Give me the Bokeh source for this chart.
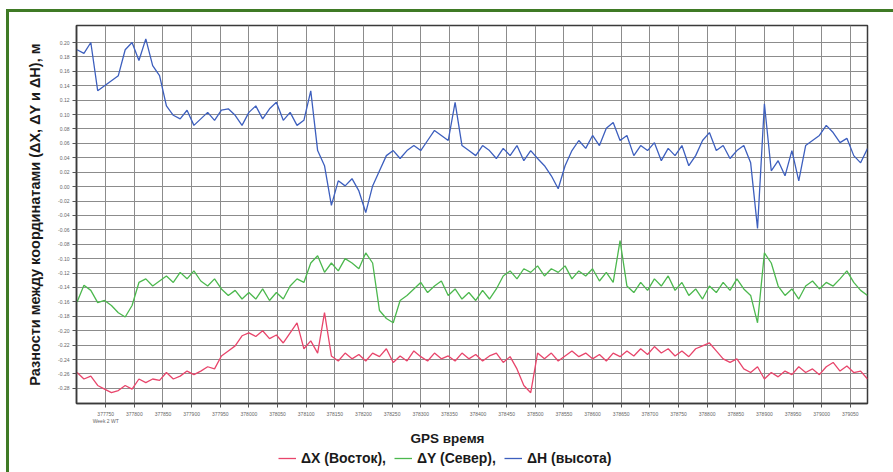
from bokeh.plotting import figure
from bokeh.layouts import column
from bokeh.models import FixedTicker, Legend, LegendItem, Range1d, Title
from bokeh.embed import file_html
from bokeh.resources import INLINE

# ---- data (GPS seconds, metres) ----
t_start = 377700
t_step = 12
dH = [0.190, 0.185, 0.200, 0.133, 0.140, 0.147, 0.154, 0.190, 0.200, 0.175,
      0.205, 0.168, 0.154, 0.112, 0.099, 0.094, 0.106, 0.085, 0.094, 0.103,
      0.092, 0.106, 0.108, 0.099, 0.085, 0.103, 0.112, 0.094, 0.108, 0.117,
      0.092, 0.103, 0.085, 0.092, 0.133, 0.050, 0.029, -0.026, 0.008, 0.001,
      0.011, -0.006, -0.036, 0.001, 0.022, 0.043, 0.050, 0.039, 0.050, 0.057,
      0.050, 0.064, 0.078, 0.071, 0.064, 0.117, 0.057, 0.050, 0.043, 0.057,
      0.050, 0.039, 0.053, 0.043, 0.057, 0.036, 0.050, 0.039, 0.029, 0.015,
      -0.003, 0.029, 0.050, 0.064, 0.053, 0.071, 0.057, 0.081, 0.089, 0.064,
      0.071, 0.043, 0.057, 0.050, 0.061, 0.036, 0.053, 0.043, 0.057, 0.029,
      0.043, 0.064, 0.075, 0.050, 0.057, 0.039, 0.050, 0.057, 0.033, -0.058,
      0.115, 0.022, 0.036, 0.015, 0.050, 0.008, 0.057, 0.064, 0.071, 0.085,
      0.075, 0.061, 0.067, 0.043, 0.033, 0.053]
dY = [-0.160, -0.137, -0.144, -0.161, -0.158, -0.165, -0.175, -0.181, -0.165, -0.133,
      -0.128, -0.138, -0.131, -0.124, -0.133, -0.119, -0.128, -0.117, -0.131, -0.138,
      -0.128, -0.142, -0.151, -0.144, -0.156, -0.147, -0.156, -0.142, -0.158, -0.147,
      -0.156, -0.138, -0.128, -0.133, -0.106, -0.096, -0.119, -0.106, -0.117, -0.100,
      -0.106, -0.114, -0.092, -0.106, -0.172, -0.183, -0.189, -0.158, -0.151, -0.142,
      -0.133, -0.147, -0.138, -0.131, -0.151, -0.142, -0.156, -0.147, -0.158, -0.144,
      -0.156, -0.142, -0.124, -0.117, -0.128, -0.114, -0.119, -0.110, -0.124, -0.114,
      -0.119, -0.110, -0.128, -0.117, -0.124, -0.114, -0.131, -0.119, -0.133, -0.075,
      -0.138, -0.147, -0.133, -0.144, -0.128, -0.138, -0.124, -0.144, -0.133, -0.151,
      -0.142, -0.156, -0.138, -0.147, -0.133, -0.144, -0.128, -0.142, -0.151, -0.189,
      -0.092, -0.106, -0.138, -0.151, -0.142, -0.156, -0.138, -0.131, -0.142, -0.133,
      -0.138, -0.128, -0.117, -0.133, -0.144, -0.151]
dX = [-0.258, -0.267, -0.263, -0.276, -0.281, -0.286, -0.283, -0.276, -0.281, -0.267,
      -0.272, -0.267, -0.269, -0.258, -0.267, -0.263, -0.256, -0.261, -0.256, -0.250,
      -0.253, -0.235, -0.228, -0.221, -0.207, -0.203, -0.208, -0.200, -0.211, -0.206,
      -0.217, -0.203, -0.189, -0.225, -0.214, -0.231, -0.175, -0.235, -0.242, -0.231,
      -0.239, -0.233, -0.242, -0.231, -0.236, -0.225, -0.244, -0.235, -0.242, -0.228,
      -0.236, -0.242, -0.231, -0.239, -0.235, -0.242, -0.231, -0.239, -0.233, -0.242,
      -0.235, -0.231, -0.244, -0.236, -0.253, -0.276, -0.286, -0.231, -0.239, -0.231,
      -0.242, -0.235, -0.228, -0.236, -0.231, -0.239, -0.233, -0.242, -0.231, -0.236,
      -0.228, -0.235, -0.225, -0.233, -0.222, -0.231, -0.225, -0.235, -0.228, -0.236,
      -0.225, -0.221, -0.217, -0.228, -0.239, -0.244, -0.239, -0.253, -0.258, -0.250,
      -0.267, -0.258, -0.264, -0.256, -0.261, -0.250, -0.258, -0.253, -0.261, -0.250,
      -0.244, -0.256, -0.249, -0.258, -0.256, -0.267]
gps_time = [t_start + t_step * i for i in range(len(dH))]

x_ticks = list(range(377750, 379051, 50))
x_tick_labels = [str(t) for t in x_ticks]
x_tick_labels[0] = "377750\nWeek 2 WT"
y_ticks = [round(-0.28 + 0.02 * k, 2) for k in range(25)]
y_tick_labels = ["%.2f" % v for v in y_ticks]

series_names = ["ΔX (Восток),", "ΔY (Север),", "ΔH (высота)"]
series_colors = ["#e8456b", "#4cb84e", "#3d5fbe"]
x_title = "GPS время"
y_title = "Разности между координатами (ΔX, ΔY и ΔH), м"

FONT = "Liberation Sans"
GREEN = "#3f7a25"

p = figure(width=884, height=435, output_backend="svg", toolbar_location=None,
           x_range=Range1d(377699, 379080), y_range=Range1d(-0.301, 0.2236),
           min_border_left=67, min_border_right=26, min_border_top=13,
           min_border_bottom=43)
p.background_fill_color = "white"
p.border_fill_color = "white"
p.outline_line_color = "#3a3a3a"
p.outline_line_width = 1.5

series = [dX, dY, dH]
for vals, col in zip(series, series_colors):
    p.line(gps_time, vals, line_color=col, line_width=1.3)

# axes
p.xaxis.ticker = FixedTicker(ticks=x_ticks)
p.xaxis.major_label_overrides = dict(zip(x_ticks, x_tick_labels))
p.yaxis.ticker = FixedTicker(ticks=y_ticks)
p.yaxis.major_label_overrides = dict(zip(y_ticks, y_tick_labels))
for ax in (p.xaxis[0], p.yaxis[0]):
    ax.minor_tick_line_color = None
    ax.major_tick_out = 4
    ax.major_tick_in = 0
    ax.major_tick_line_color = "#555555"
    ax.axis_line_color = "#3a3a3a"
    ax.axis_line_width = 1.5
    ax.major_label_text_font = FONT
    ax.major_label_text_font_size = "5px"
    ax.major_label_text_color = "#666666"
    ax.major_label_standoff = 3
    ax.axis_label_text_font = FONT
    ax.axis_label_text_font_style = "bold"
    ax.axis_label_text_color = "#1a1a1a"

p.yaxis.axis_label = y_title
p.yaxis.axis_label_text_font_size = "14.5px"
p.yaxis.axis_label_standoff = 12

xt = Title(text=x_title, align="left", offset=334, standoff=4,
           text_font=FONT, text_font_style="bold", text_font_size="13.5px",
           text_color="#1a1a1a")
p.add_layout(xt, "below")

p.xgrid.grid_line_color = "#8c8c8c"
p.ygrid.grid_line_color = "#8c8c8c"
p.xgrid.grid_line_width = 1
p.ygrid.grid_line_width = 1

# legend strip below the chart (series drawn out of view, only the legend shows)
pl = figure(width=884, height=25, output_backend="svg", toolbar_location=None,
            x_range=Range1d(0, 1), y_range=Range1d(0, 1),
            x_axis_location=None, y_axis_location=None, min_border=0)
pl.grid.visible = False
pl.outline_line_color = None
pl.background_fill_color = "white"
pl.border_fill_color = "white"
leg_renderers = [pl.line(gps_time, vals, line_color=c, line_width=1.3)
                 for vals, c in zip(series, series_colors)]
legend = Legend(items=[LegendItem(label=n, renderers=[r])
                       for n, r in zip(series_names, leg_renderers)],
                orientation="horizontal", location=(202, 4),
                border_line_color=None, background_fill_alpha=0,
                label_text_font=FONT, label_text_font_style="bold",
                label_text_font_size="14px", label_text_color="#1a1a1a",
                glyph_width=18, spacing=8, padding=2, margin=0,
                label_standoff=5)
pl.add_layout(legend)

layout = column(p, pl, spacing=0,
                styles={"margin-left": "6px", "margin-top": "9px",
                        "border-left": "3px solid " + GREEN,
                        "border-top": "3px solid " + GREEN,
                        "background-color": "white"})

open("out.html", "w").write(file_html(layout, INLINE))
